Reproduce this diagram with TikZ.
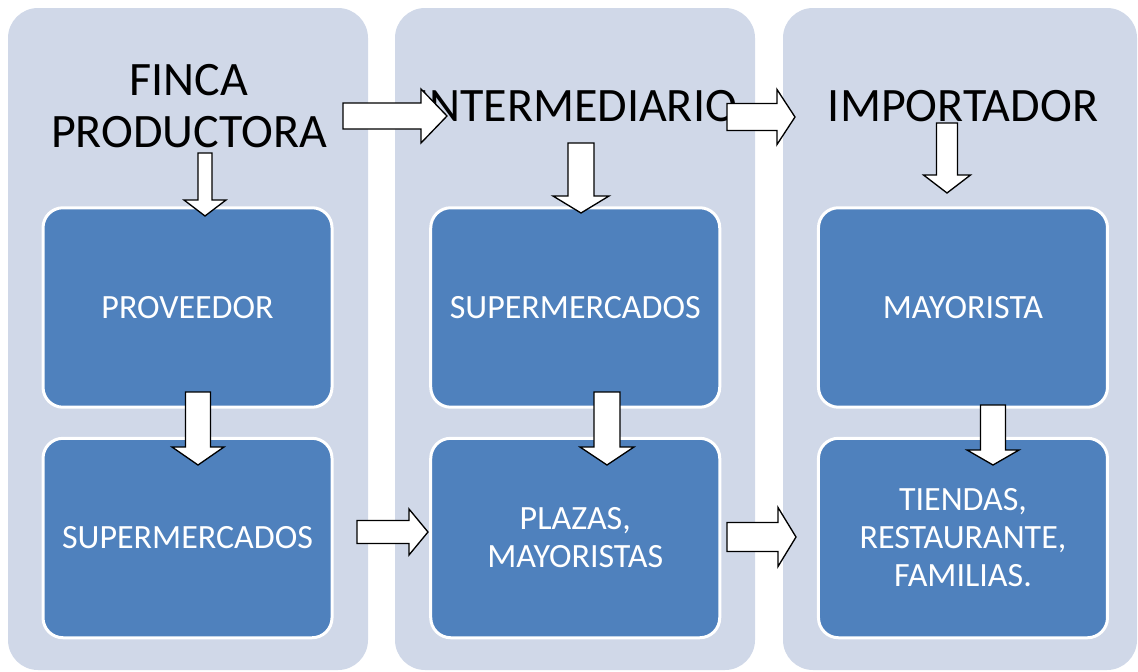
\documentclass[tikz,border=0pt]{standalone}
\usepackage{fontspec}
\setmainfont{Carlito}
\usetikzlibrary{matrix}
\definecolor{colfondo}{RGB}{208,216,232}
\definecolor{cajazul}{RGB}{79,129,189}
\tikzset{
  columna/.style={fill=colfondo, rounded corners=22.5pt},
  titulo/.style={font=\fontsize{36}{39}\selectfont, align=center, inner sep=0},
  caja/.style={fill=cajazul, draw=white, line width=2.25pt, rounded corners=15pt,
    minimum width=216.75pt, minimum height=149.6pt, outer sep=0, anchor=center,
    text=white, align=center, font=\fontsize{25.5}{28.5}\selectfont},
  flecha/.style={draw=black, fill=white, line width=1pt, line join=miter}
}
% punto inicial, giro, largo, largo punta, medio ancho, medio ancho punta
\newcommand{\flechabloque}[6]{%
  \draw[flecha, shift={(#1)}, rotate=#2] (0,-#5) -- (#3,-#5) -- (#3,-#6) -- ({#3+#4},0) -- (#3,#6) -- (#3,#5) -- (0,#5) -- cycle;}

\begin{document}
\begin{tikzpicture}[x=0.75pt, y=-0.75pt]
        \useasboundingbox (0,0) rectangle (1138,671);
        \fill[columna] (8,8) rectangle (368,670);
        \fill[columna] (395,8) rectangle (755,670);
        \fill[columna] (783,8) rectangle (1137,670);
        \node[titulo] (finca) at (189,106) {FINCA\\PRODUCTORA};
        \node[titulo] (interm) at (577,106) {INTERMEDIARIO};
        \node[titulo] (import) at (963,106) {IMPORTADOR};
        \matrix (canal) at (575.25,422.75) [column sep={290.8pt,between origins},
            row sep={172.9pt,between origins}]
          {
            \node[caja] (prov) {PROVEEDOR}; &
            \node[caja] (super2) {SUPERMERCADOS}; &
            \node[caja] (mayor) {MAYORISTA}; \\
            \node[caja] (super1) {SUPERMERCADOS}; &
            \node[caja] (plazas) {PLAZAS,\\MAYORISTAS}; &
            \node[caja] (tiendas) {TIENDAS,\\RESTAURANTE,\\FAMILIAS.}; \\
          };
        \flechabloque{343,116}{0}{78}{26}{13}{27}
        \flechabloque{727,117}{0}{50}{18}{13.5}{27.5}
        \flechabloque{357,532}{0}{52}{19}{11.5}{23}
        \flechabloque{727,537}{0}{51}{18}{14.5}{29.5}
        \flechabloque{205,153}{-90}{47}{16}{7}{21}
        \flechabloque{581,143}{-90}{53}{17}{13}{28}
        \flechabloque{947,123}{-90}{52}{18}{10.5}{23.5}
        \flechabloque{198,392}{-90}{55}{18}{12.5}{26}
        \flechabloque{607,392}{-90}{55}{18}{13}{27}
        \flechabloque{993,405}{-90}{45}{15}{12.5}{26}
    \end{tikzpicture}
\end{document}
